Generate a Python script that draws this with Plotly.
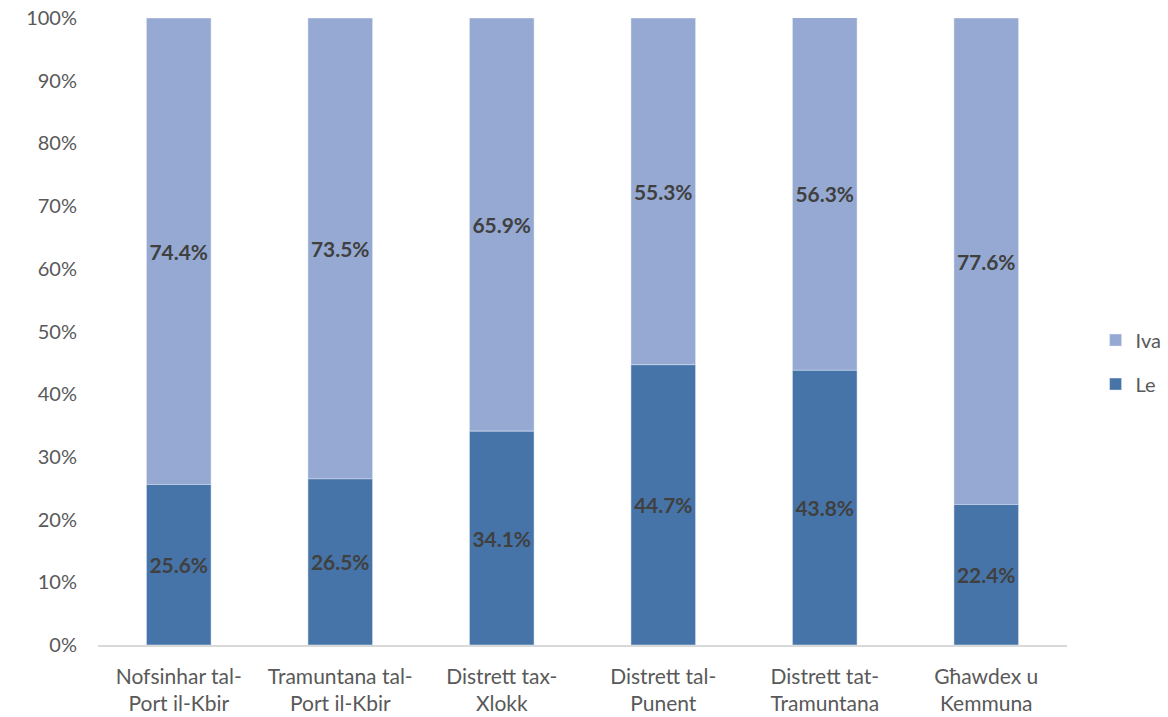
import plotly.graph_objects as go

categories = ["Nofsinhar tal-<br>Port il-Kbir", "Tramuntana tal-<br>Port il-Kbir", "Distrett tax-<br>Xlokk",
              "Distrett tal-<br>Punent", "Distrett tat-<br>Tramuntana", "Għawdex u<br>Kemmuna"]
le_values = [25.6, 26.5, 34.1, 44.7, 43.8, 22.4]
iva_values = [74.4, 73.5, 65.9, 55.3, 56.3, 77.6]
y_ticks = [0, 10, 20, 30, 40, 50, 60, 70, 80, 90, 100]

font_family = "Lato, Open Sans, sans-serif"
label_font = dict(family=font_family, size=21, color="#404040")

fig = go.Figure()
fig.add_trace(go.Bar(
    x=categories, y=iva_values, name="Iva", legendgroup="iva",
    marker=dict(color="#95a9d2"), base=le_values,
    text=[f"<b>{v:.1f}%</b>" for v in iva_values], textposition="inside",
    insidetextanchor="middle", textfont=label_font, textangle=0,
))
fig.add_trace(go.Bar(
    x=categories, y=le_values, name="Le", legendgroup="le",
    marker=dict(color="#4674a8"),
    text=[f"<b>{v:.1f}%</b>" for v in le_values], textposition="inside",
    insidetextanchor="middle", textfont=label_font, textangle=0,
))

fig.update_layout(
    barmode="overlay",
    bargap=0.6,
    width=1168, height=717,
    margin=dict(l=98, r=101, t=18, b=72, autoexpand=False),
    plot_bgcolor="white", paper_bgcolor="white",
    font=dict(family=font_family, size=20, color="#595959"),
    uniformtext=dict(minsize=10, mode="show"),
    legend=dict(
        xref="container", yref="container",
        x=0.938, xanchor="left", y=0.495, yanchor="middle",
        traceorder="grouped", tracegroupgap=15,
        font=dict(family=font_family, size=20, color="#595959"),
        itemwidth=30,
    ),
    xaxis=dict(
        showline=True, linecolor="#d9d9d9", linewidth=1.5, automargin=False,
        ticks="", showgrid=False, tickfont=dict(size=21, color="#595959"),
        ticklabelstandoff=12,
    ),
    yaxis=dict(
        range=[0, 100], tickvals=y_ticks, ticktext=[f"{t}%" for t in y_ticks],
        showgrid=False, zeroline=False, ticks="", showline=False, automargin=False,
        tickfont=dict(size=20, color="#595959"), ticklabelstandoff=20,
    ),
)

fig.write_html("out.html", config={"displayModeBar": False},
               post_script="document.body.style.margin='0';")
